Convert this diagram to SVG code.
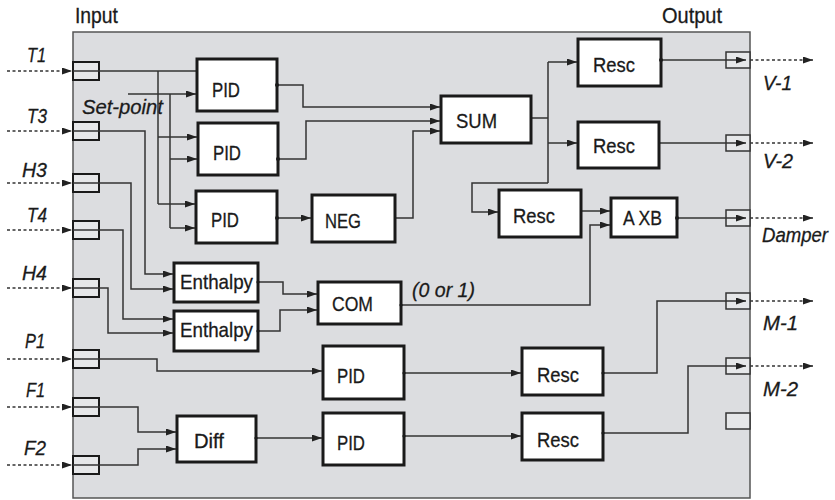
<svg xmlns="http://www.w3.org/2000/svg" width="835" height="500" viewBox="0 0 835 500">
<defs>
<marker id="ah" markerWidth="10" markerHeight="7" refX="10" refY="3.5" orient="auto" markerUnits="userSpaceOnUse">
<path d="M0,0 L10,3.5 L0,7 z" fill="#222"/>
</marker>
<style>
text{font-family:"Liberation Sans",Arial,sans-serif;font-size:21px;fill:#1a1a1a;stroke:#1a1a1a;stroke-width:0.3}
.it{font-style:italic}
.hd{font-size:22px}
.sm{font-size:19.5px}
.blk{fill:#fff;stroke:#1a1a1a;stroke-width:3}
.pin{fill:#e6e7e9;stroke:#1a1a1a;stroke-width:2}
.pout{fill:#e6e7e9;stroke:#333;stroke-width:1.5}
.c{fill:none;stroke:#333;stroke-width:1.5}
.a{marker-end:url(#ah)}
.d{fill:none;stroke:#333;stroke-width:1.5;stroke-dasharray:3 2.5;marker-end:url(#ah)}
.dot{fill:#1a1a1a}
</style>
</defs>
<rect x="0" y="0" width="835" height="500" fill="#fff"/>
<rect id="panel" x="73" y="32" width="677" height="466" fill="#dcdde0" stroke="#555" stroke-width="1.5"/>
<text class="hd" x="75" y="23" textLength="43" lengthAdjust="spacingAndGlyphs">Input</text>
<text class="hd" x="662" y="23" textLength="60" lengthAdjust="spacingAndGlyphs">Output</text>

<g id="inputs">
<text class="it" x="27" y="62" textLength="19" lengthAdjust="spacingAndGlyphs">T1</text>
<text class="it" x="27" y="123" textLength="20" lengthAdjust="spacingAndGlyphs">T3</text>
<text class="it" x="22" y="177" textLength="25" lengthAdjust="spacingAndGlyphs">H3</text>
<text class="it" x="27" y="222" textLength="20" lengthAdjust="spacingAndGlyphs">T4</text>
<text class="it" x="22" y="280" textLength="25" lengthAdjust="spacingAndGlyphs">H4</text>
<text class="it" x="25" y="348" textLength="20" lengthAdjust="spacingAndGlyphs">P1</text>
<text class="it" x="26" y="397" textLength="19" lengthAdjust="spacingAndGlyphs">F1</text>
<text class="it" x="24" y="455" textLength="22" lengthAdjust="spacingAndGlyphs">F2</text>
<text class="it" x="82" y="114" textLength="81" lengthAdjust="spacingAndGlyphs">Set-point</text>
<rect class="pin" x="73" y="62" width="26" height="18"/>
<rect class="pin" x="73" y="122" width="26" height="18"/>
<rect class="pin" x="73" y="174" width="26" height="18"/>
<rect class="pin" x="73" y="221" width="26" height="18"/>
<rect class="pin" x="73" y="279" width="26" height="18"/>
<rect class="pin" x="73" y="350" width="26" height="18"/>
<rect class="pin" x="73" y="398" width="26" height="18"/>
<rect class="pin" x="73" y="456" width="26" height="18"/>
</g>

<g id="outputs">
<rect class="pout" x="726" y="52" width="24" height="16"/>
<rect class="pout" x="726" y="135" width="24" height="16"/>
<rect class="pout" x="726" y="210" width="24" height="16"/>
<rect class="pout" x="726" y="293" width="24" height="16"/>
<rect class="pout" x="726" y="358" width="24" height="16"/>
<rect class="pout" x="726" y="413" width="24" height="16"/>
<text class="it" x="763" y="90" textLength="29" lengthAdjust="spacingAndGlyphs">V-1</text>
<text class="it" x="763" y="168" textLength="30" lengthAdjust="spacingAndGlyphs">V-2</text>
<text class="it sm" x="762" y="242" textLength="66" lengthAdjust="spacingAndGlyphs">Damper</text>
<text class="it" x="763" y="330" textLength="35" lengthAdjust="spacingAndGlyphs">M-1</text>
<text class="it" x="763" y="396" textLength="35" lengthAdjust="spacingAndGlyphs">M-2</text>
</g>

<g id="connectors">
<path class="d" d="M7,71 H72"/>
<path class="d" d="M7,131 H72"/>
<path class="d" d="M7,183 H72"/>
<path class="d" d="M7,230 H72"/>
<path class="d" d="M7,288 H72"/>
<path class="d" d="M7,359 H72"/>
<path class="d" d="M7,407 H72"/>
<path class="d" d="M7,465 H72"/>
<path class="d" d="M750,60 H813"/>
<path class="d" d="M750,143 H813"/>
<path class="d" d="M750,218 H813"/>
<path class="d" d="M750,301 H813"/>
<path class="d" d="M750,366 H813"/>

<path class="c" d="M73,71 H197"/>
<path class="c" d="M158,71 V204"/>
<path class="c a" d="M158,137 H197"/>
<path class="c a" d="M158,204 H195"/>
<path class="c a" d="M128,94 H196"/>
<path class="c" d="M170,94 V228"/>
<path class="c a" d="M170,159 H197"/>
<path class="c a" d="M170,228 H195"/>
<path class="c a" d="M73,131 H145 V274 H173"/>
<path class="c a" d="M73,183 H131 V289 H173"/>
<path class="c a" d="M73,230 H123 V319 H173"/>
<path class="c a" d="M73,288 H108 V333 H173"/>
<path class="c a" d="M73,359 H157 V371 H322"/>
<path class="c a" d="M73,407 H138 V432 H176"/>
<path class="c a" d="M73,465 H138 V449 H176"/>

<path class="c a" d="M277,85 H303 V107 H440"/>
<path class="c a" d="M278,159 H306 V121 H440"/>
<path class="c a" d="M277,218 H311"/>
<path class="c a" d="M395,218 H413 V131 H440"/>
<path class="c" d="M531,118 H548 M548,62 V183"/>
<path class="c a" d="M548,62 H577"/>
<path class="c a" d="M548,143 H577"/>
<path class="c a" d="M548,183 H472 V212 H498"/>
<path class="c a" d="M661,60 H746"/>
<path class="c a" d="M659,143 H746"/>
<path class="c a" d="M581,211 H610"/>
<path class="c a" d="M677,218 H746"/>
<path class="c a" d="M258,282 H283 V294 H317"/>
<path class="c a" d="M258,331 H280 V310 H317"/>
<path class="c a" d="M401,305 H590 V225 H610"/>
<path class="c a" d="M404,373 H521"/>
<path class="c a" d="M603,373 H657 V301 H746"/>
<path class="c a" d="M404,436 H521"/>
<path class="c a" d="M603,433 H688 V366 H746"/>
<path class="c a" d="M256,438 H322"/>
</g>

<g id="pid1"><rect class="blk" x="197" y="59" width="80" height="52"/><text x="212" y="97" textLength="28" lengthAdjust="spacingAndGlyphs">PID</text><circle class="dot" cx="277" cy="85" r="2"/></g>
<g id="pid2"><rect class="blk" x="198" y="123" width="80" height="52"/><text x="213" y="160" textLength="28" lengthAdjust="spacingAndGlyphs">PID</text><circle class="dot" cx="278" cy="159" r="2"/></g>
<g id="pid3"><rect class="blk" x="196" y="191" width="81" height="52"/><text x="211" y="227" textLength="28" lengthAdjust="spacingAndGlyphs">PID</text><circle class="dot" cx="277" cy="218" r="2"/></g>
<g id="neg"><rect class="blk" x="312" y="195" width="83" height="47"/><text x="325" y="228" textLength="36" lengthAdjust="spacingAndGlyphs">NEG</text></g>
<g id="sum"><rect class="blk" x="441" y="96" width="90" height="47"/><text x="456" y="128" textLength="41" lengthAdjust="spacingAndGlyphs">SUM</text></g>
<g id="resc1"><rect class="blk" x="578" y="39" width="83" height="47"/><text x="593" y="72" textLength="42" lengthAdjust="spacingAndGlyphs">Resc</text><circle class="dot" cx="661" cy="60" r="2"/></g>
<g id="resc2"><rect class="blk" x="578" y="122" width="81" height="46"/><text x="593" y="153" textLength="42" lengthAdjust="spacingAndGlyphs">Resc</text></g>
<g id="resc3"><rect class="blk" x="499" y="190" width="82" height="47"/><text x="513" y="223" textLength="42" lengthAdjust="spacingAndGlyphs">Resc</text></g>
<g id="axb"><rect class="blk" x="611" y="198" width="66" height="39"/><text x="623" y="225" textLength="39" lengthAdjust="spacingAndGlyphs">A XB</text><circle class="dot" cx="677" cy="218" r="2"/></g>
<g id="enthalpy1"><rect class="blk" x="174" y="263" width="84" height="39"/><text x="180" y="289" textLength="73" lengthAdjust="spacingAndGlyphs">Enthalpy</text><circle class="dot" cx="258" cy="282" r="1.6"/></g>
<g id="enthalpy2"><rect class="blk" x="174" y="311" width="84" height="40"/><text x="180" y="337" textLength="73" lengthAdjust="spacingAndGlyphs">Enthalpy</text><circle class="dot" cx="258" cy="331" r="1.6"/></g>
<g id="com"><rect class="blk" x="318" y="282" width="83" height="42"/><text x="332" y="311" textLength="41" lengthAdjust="spacingAndGlyphs">COM</text><circle class="dot" cx="401" cy="305" r="1.6"/><text class="it" x="412" y="297" textLength="63" lengthAdjust="spacingAndGlyphs">(0 or 1)</text></g>
<g id="pid4"><rect class="blk" x="323" y="346" width="81" height="53"/><text x="337" y="383" textLength="28" lengthAdjust="spacingAndGlyphs">PID</text><circle class="dot" cx="404" cy="373" r="1.6"/></g>
<g id="pid5"><rect class="blk" x="323" y="413" width="81" height="52"/><text x="337" y="450" textLength="28" lengthAdjust="spacingAndGlyphs">PID</text><circle class="dot" cx="404" cy="436" r="1.6"/></g>
<g id="resc4"><rect class="blk" x="522" y="348" width="81" height="47"/><text x="537" y="382" textLength="42" lengthAdjust="spacingAndGlyphs">Resc</text><circle class="dot" cx="603" cy="373" r="1.6"/></g>
<g id="resc5"><rect class="blk" x="522" y="413" width="81" height="47"/><text x="537" y="447" textLength="42" lengthAdjust="spacingAndGlyphs">Resc</text><circle class="dot" cx="603" cy="433" r="1.6"/></g>
<g id="diff"><rect class="blk" x="177" y="416" width="79" height="46"/><text x="194" y="448" textLength="30" lengthAdjust="spacingAndGlyphs">Diff</text><circle class="dot" cx="256" cy="438" r="1.6"/></g>
</svg>
